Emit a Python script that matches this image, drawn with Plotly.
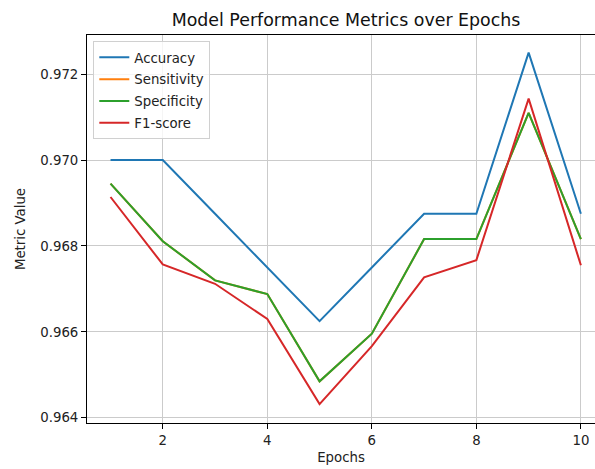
import plotly.graph_objects as go

# Metric values recorded at each training epoch
epochs = [1, 2, 3, 4, 5, 6, 7, 8, 9, 10]
accuracy = [0.97000, 0.97000, 0.96875, 0.96750, 0.96625, 0.96750, 0.96875, 0.96875, 0.97250, 0.96875]
sensitivity = [0.96945, 0.96811, 0.96720, 0.96688, 0.96485, 0.96596, 0.96816, 0.96816, 0.97110, 0.96816]
specificity = [0.96945, 0.96811, 0.96720, 0.96688, 0.96485, 0.96596, 0.96816, 0.96816, 0.97110, 0.96816]
f1_score = [0.96914, 0.96757, 0.96712, 0.96630, 0.96432, 0.96567, 0.96727, 0.96767, 0.97143, 0.96755]

series = [
    ("Accuracy", accuracy, "#1f77b4"),
    ("Sensitivity", sensitivity, "#ff7f0e"),
    ("Specificity", specificity, "#2ca02c"),
    ("F1-score", f1_score, "#d62728"),
]

FONT = "DejaVu Sans"
TXT = 13.3

fig = go.Figure()
for name, values, color in series:
    fig.add_trace(go.Scatter(
        x=epochs, y=values, name=name, mode="lines", legendgroup=name,
        line=dict(color=color, width=2),
    ))

axis_common = dict(
    showgrid=True, gridcolor="#cbcbcb", gridwidth=1,
    showline=True, linecolor="black", linewidth=1,
    ticks="outside", ticklen=5, tickwidth=1, tickcolor="black",
    tickfont=dict(family=FONT, size=TXT, color="#222"),
    zeroline=False,
)

fig.update_layout(
    width=595, height=469,
    margin=dict(l=87, r=0, t=35, b=46),
    paper_bgcolor="white", plot_bgcolor="white",
    font=dict(family=FONT, color="#222"),
    title=dict(text="Model Performance Metrics over Epochs",
               x=346 / 595, xref="container", xanchor="center",
               y=1 - 20 / 469, yref="container", yanchor="middle",
               font=dict(family=FONT, size=17.4, color="#111")),
    xaxis=dict(range=[0.55, 10.27], tickvals=[2, 4, 6, 8, 10], mirror=True,
               title=dict(text="Epochs", font=dict(family=FONT, size=TXT, color="#222"), standoff=5),
               **axis_common),
    yaxis=dict(range=[0.96388, 0.97291],
               tickvals=[0.964, 0.966, 0.968, 0.970, 0.972],
               ticktext=["0.964", "0.966", "0.968", "0.970", "0.972"],
               title=dict(text="Metric Value", font=dict(family=FONT, size=TXT, color="#222"), standoff=11),
               **axis_common),
    legend=dict(x=0.0124, y=0.984, xanchor="left", yanchor="top",
                bgcolor="rgba(255,255,255,0.8)", bordercolor="#d0d0d0", borderwidth=1,
                font=dict(family=FONT, size=TXT, color="#222"),
                itemwidth=30, tracegroupgap=1.5),
    showlegend=True,
)

fig.write_html("out.html")
